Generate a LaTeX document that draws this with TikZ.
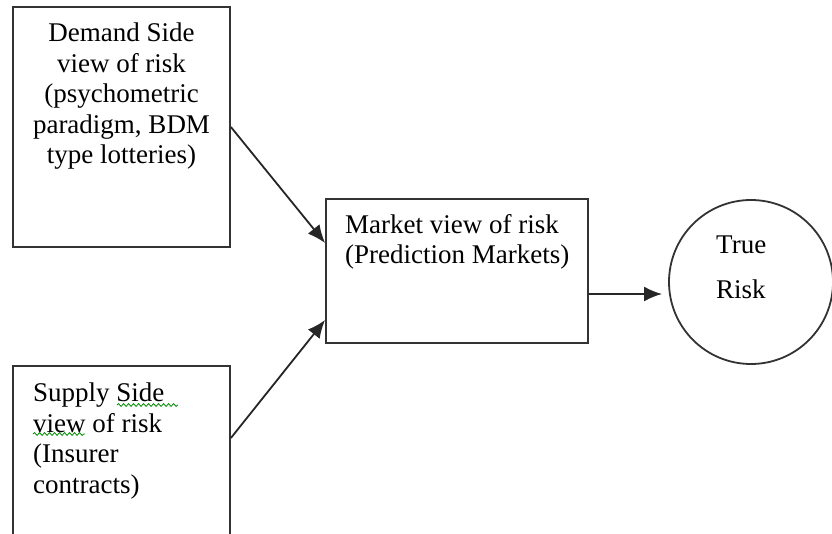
\documentclass[tikz,border=0pt]{standalone}
\usepackage{fontspec}
\setmainfont{Liberation Serif}
\usepackage{tikz}
\usetikzlibrary{arrows.meta}
\usetikzlibrary{shapes}
\usetikzlibrary{decorations.pathmorphing}
\usetikzlibrary{positioning}

\tikzset{
  box/.style={draw=black!80, line width=1.8pt, inner sep=0pt},
  txt/.style={inner sep=0pt, font=\fontsize{27}{30.5}\selectfont},
  link/.style={-{Latex[length=18pt,width=15pt]}, line width=1.8pt, draw=black!85},
  squiggle/.style={draw=green!55!black, line width=0.8pt,
    decorate, decoration={snake, segment length=5pt, amplitude=1.4pt}}
}

\begin{document}
\begin{tikzpicture}[x=1pt, y=-1pt]
\clip (0,0) rectangle (832,533);
\fill[white] (0,0) rectangle (832,533);

%boxes
\node[box, minimum width=217pt, minimum height=240pt] (demand) at (121.5,127) {};
\node[box, minimum width=217pt, minimum height=180pt] (supply) at (121.5,456) {};
\node[box, minimum width=262pt, minimum height=144pt] (market) at (457,271) {};
\node[box, circle, minimum size=164pt] (truerisk) at (751,282) {};

%texts
\node[txt, anchor=north, align=center] (demandtxt) at (121.5,23)
  {Demand Side\\view of risk\\(psychometric\\paradigm, BDM\\type lotteries)};
\node[txt, anchor=north west, align=left] (supplytxt) at (33,383)
  {Supply Side\\view of risk\\(Insurer\\contracts)};
\node[txt, anchor=north west, align=left] (markettxt) at (345,214)
  {Market view of risk\\(Prediction Markets)};
\node[txt, anchor=north west, align=left, font=\fontsize{27}{45}\selectfont] (truerisktxt) at (716,236)
  {True\\Risk};

%spelling marks
\draw[squiggle] (117,405) -- (178,405);
\draw[squiggle] (33,434) -- (85,434);

%arrows
\coordinate (tip) at (662,294);
\draw[link] (demand.east) -- ([yshift=28pt]market.west);
\draw[link] ([yshift=18pt]supply.east) -- ([yshift=-49pt]market.west);
\draw[link] ([yshift=-23pt]market.east) -- (tip);
\end{tikzpicture}
\end{document}
